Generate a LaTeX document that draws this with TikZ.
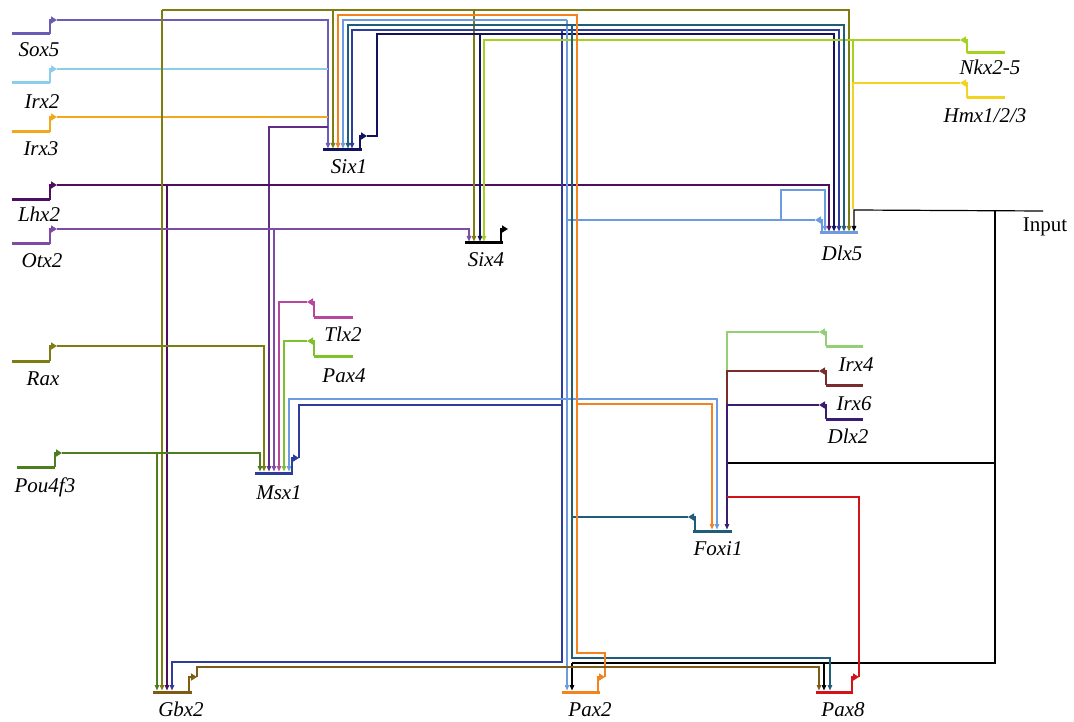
\documentclass[tikz,border=0pt]{standalone}
\usepackage{fontspec}
\setmainfont{Liberation Serif}
\usetikzlibrary{arrows.meta}
\definecolor{csox}{HTML}{6B5CB5}
\definecolor{csxm}{HTML}{5E2D85}
\definecolor{cirxtwo}{HTML}{8CCDEB}
\definecolor{cirxthree}{HTML}{F2A81D}
\definecolor{clhx}{HTML}{4E0F60}
\definecolor{cotx}{HTML}{7E4BA6}
\definecolor{crax}{HTML}{7D7D12}
\definecolor{cpou}{HTML}{4C7D1E}
\definecolor{ctlx}{HTML}{B8479E}
\definecolor{cpaxfour}{HTML}{7DC12B}
\definecolor{cmsx}{HTML}{2E3D9C}
\definecolor{csix}{HTML}{12125E}
\definecolor{cdlx}{HTML}{6C9BE2}
\definecolor{cnkx}{HTML}{A5D11F}
\definecolor{chmx}{HTML}{F2D322}
\definecolor{cirxfour}{HTML}{93CF74}
\definecolor{cirxsix}{HTML}{7A2C2C}
\definecolor{cdlxtwo}{HTML}{3B1C72}
\definecolor{cfoxi}{HTML}{1F5E7B}
\definecolor{cgbx}{HTML}{7E5C15}
\definecolor{cpaxtwo}{HTML}{F2831E}
\definecolor{cpaxeight}{HTML}{D2141A}
\tikzset{
  conn/.style={line width=1.2pt},
  tip/.style={-{Triangle[length=5.5pt,width=4.5pt]}},
  genebar/.style={line width=3pt},
  prom/.style={line width=2pt,-{Triangle[length=6pt,width=7pt]}},
  lbl/.style={font=\fontsize{21}{21}\selectfont\itshape, anchor=base, inner sep=0pt},
  lblup/.style={font=\fontsize{21}{21}\selectfont, anchor=base, inner sep=0pt},
}
\newcommand{\grn}[7]{\draw[genebar,#1] (#2,#4) -- (#3,#4); \draw[prom,#1] (#5,#4) -- (#5,#6) -- (#7,#6);}
\begin{document}
\begin{tikzpicture}[x=1pt,y=-1pt]
\useasboundingbox (0,0) rectangle (1074,722);
% ---------- named end points ----------
\coordinate (sox5o) at (57,20);
\coordinate (irx2o) at (57,69);
\coordinate (irx3o) at (57,117);
\coordinate (lhx2o) at (57,185);
\coordinate (otx2o) at (57,229);
\coordinate (raxo) at (57,346);
\coordinate (pou4f3o) at (62,453);
\coordinate (tlx2o) at (307,302);
\coordinate (pax4o) at (307,341);
\coordinate (msx1o) at (299,458);
\coordinate (six1o) at (367,136);
\coordinate (six4o) at (508,229);
\coordinate (dlx5o) at (815,220);
\coordinate (nkxo) at (960,40);
\coordinate (hmxo) at (960,83);
\coordinate (irx4o) at (819,332);
\coordinate (irx6o) at (819,371);
\coordinate (dlx2o) at (819,405);
\coordinate (foxi1o) at (688,517);
\coordinate (gbx2o) at (197,677);
\coordinate (pax2o) at (605,677);
\coordinate (pax8o) at (859,677);
\coordinate (inp) at (1043,211);
% inputs
\coordinate (six1a) at (328,148.5);
\coordinate (six1b) at (333,148.5);
\coordinate (six1c) at (338,148.5);
\coordinate (six1d) at (343,148.5);
\coordinate (six1e) at (348,148.5);
\coordinate (six1f) at (352,148.5);
\coordinate (six4a) at (469,241.5);
\coordinate (six4b) at (474,241.5);
\coordinate (six4c) at (480,241.5);
\coordinate (six4d) at (484,241.5);
\coordinate (msx1a) at (260,471.5);
\coordinate (msx1b) at (264,471.5);
\coordinate (msx1c) at (269,471.5);
\coordinate (msx1d) at (274,471.5);
\coordinate (msx1e) at (279,471.5);
\coordinate (msx1f) at (284,471.5);
\coordinate (msx1g) at (289,471.5);
\coordinate (dlx5a) at (825,231.5);
\coordinate (dlx5b) at (829,231.5);
\coordinate (dlx5c) at (834,231.5);
\coordinate (dlx5d) at (839,231.5);
\coordinate (dlx5e) at (844,231.5);
\coordinate (dlx5f) at (849,231.5);
\coordinate (dlx5g) at (854,231.5);
\coordinate (foxi1a) at (712,529.5);
\coordinate (foxi1b) at (717,529.5);
\coordinate (foxi1c) at (727,529.5);
\coordinate (gbx2a) at (157,690.5);
\coordinate (gbx2b) at (162,690.5);
\coordinate (gbx2c) at (167,690.5);
\coordinate (gbx2d) at (172,690.5);
\coordinate (pax2a) at (567,690.5);
\coordinate (pax2b) at (572,690.5);
\coordinate (pax8a) at (819,690.5);
\coordinate (pax8b) at (824,690.5);
\coordinate (pax8c) at (830,690.5);
% ---------- connectors ----------
% Sox5
\draw[conn,csox,tip] (sox5o) -| (six1a);
\draw[conn,csxm,tip] (328,127) -| (msx1c);
% Irx2, Irx3
\draw[conn,cirxtwo] (irx2o) -- (328,69);
\draw[conn,cirxthree] (irx3o) -- (328,117);
% Lhx2
\draw[conn,clhx,tip] (lhx2o) -| (dlx5b);
\draw[conn,clhx,tip] (167,185) -- (gbx2c);
% Otx2
\draw[conn,cotx,tip] (otx2o) -| (six4a);
\draw[conn,cotx,tip] (274,229) -- (msx1d);
% Rax
\draw[conn,crax,tip] (raxo) -| (msx1b);
\draw[conn,crax,tip] (162,10) -- (gbx2b);
\draw[conn,crax,tip] (162,10) -| (dlx5f);
\draw[conn,crax,tip] (333,10) -- (six1b);
\draw[conn,crax,tip] (474,10) -- (six4b);
% Pou4f3
\draw[conn,cpou,tip] (pou4f3o) -| (msx1a);
\draw[conn,cpou,tip] (157,453) -- (gbx2a);
% Tlx2, Pax4
\draw[conn,ctlx,tip] (tlx2o) -| (msx1e);
\draw[conn,cpaxfour,tip] (pax4o) -| (msx1f);
% Msx1
\draw[conn,cmsx] (msx1o) |- (562,405);
\draw[conn,cmsx,tip] (562,30) -- (562,662) -| (gbx2d);
\draw[conn,cmsx,tip] (562,30) -| (six1f);
\draw[conn,cmsx,tip] (562,30) -| (dlx5d);
% Six1
\draw[conn,csix,tip] (six1o) -| (377,34) -| (dlx5c);
\draw[conn,csix,tip] (480,34) -- (six4c);
% Dlx5
\draw[conn,cdlx] (dlx5o) -- (567,220);
\draw[conn,cdlx,tip] (781,220) |- (825,190) -- (dlx5a);
\draw[conn,cdlx,tip] (567,20) -- (pax2a);
\draw[conn,cdlx,tip] (567,20) -| (six1d);
\draw[conn,cdlx,tip] (567,399) -| (msx1g);
\draw[conn,cdlx,tip] (567,399) -| (foxi1b);
% Nkx2-5, Hmx
\draw[conn,cnkx,tip] (nkxo) -| (six4d);
\draw[conn,cnkx] (853,40) -- (853,83);
\draw[conn,chmx] (hmxo) -| (853,209);
% Input
\draw[conn,black,tip] (inp) -- (854,210) -- (dlx5g);
\draw[conn,black] (995,210) -- (995,663) -- (572,663);
\draw[conn,black,tip] (572,663) -- (pax2b);
\draw[conn,black,tip] (824,663) -- (pax8b);
\draw[conn,black] (995,463) -- (727,463);
% Irx4, Irx6, Dlx2
\draw[conn,cirxfour] (irx4o) -| (727,371);
\draw[conn,cirxsix] (irx6o) -| (727,405);
\draw[conn,cdlxtwo,tip] (dlx2o) -| (foxi1c);
% Foxi1
\draw[conn,cfoxi] (foxi1o) -- (572,517);
\draw[conn,cfoxi,tip] (572,25) -- (572,658) -| (pax8c);
\draw[conn,cfoxi,tip] (572,25) -| (six1e);
\draw[conn,cfoxi,tip] (572,25) -| (dlx5e);
% Pax2
\draw[conn,cpaxtwo,tip] (pax2o) |- (577,653) -- (577,15) -| (six1c);
\draw[conn,cpaxtwo,tip] (577,404) -| (foxi1a);
% Gbx2
\draw[conn,cgbx,tip] (gbx2o) |- (819,667) -- (pax8a);
% Pax8
\draw[conn,cpaxeight] (pax8o) |- (727,497);
% ---------- genes ----------
\grn{csox}{12}{50}{34}{50}{20}{57}
\grn{cirxtwo}{12}{50}{83}{50}{69}{57}
\grn{cirxthree}{12}{50}{132}{50}{117}{57}
\grn{clhx}{12}{50}{200}{50}{185}{57}
\grn{cotx}{12}{50}{244}{50}{229}{57}
\grn{crax}{12}{50}{361}{50}{346}{57}
\grn{cpou}{17}{55}{467}{55}{453}{62}
\grn{ctlx}{314}{353}{317}{314}{302}{307}
\grn{cpaxfour}{314}{353}{356}{314}{341}{307}
\grn{cmsx}{255}{293}{473}{292}{458}{299}
\grn{csix}{323}{362}{150}{360}{136}{367}
\grn{black}{465}{503}{243}{501}{229}{508}
\grn{cdlx}{820}{858}{233}{822}{220}{815}
\grn{cnkx}{967}{1005}{53}{967}{40}{960}
\grn{chmx}{967}{1005}{98}{967}{83}{960}
\grn{cirxfour}{826}{863}{346}{826}{332}{819}
\grn{cirxsix}{826}{863}{385}{826}{371}{819}
\grn{cdlxtwo}{826}{863}{419}{826}{405}{819}
\grn{cfoxi}{693}{732}{531}{695}{517}{688}
\grn{cgbx}{153}{192}{692}{189}{677}{197}
\grn{cpaxtwo}{562}{600}{692}{598}{677}{605}
\grn{cpaxeight}{816}{853}{692}{852}{677}{859}
% ---------- labels ----------
\node[lbl] (lsox5) at (39,57) {Sox5};
\node[lbl] (lirx2) at (42,109) {Irx2};
\node[lbl] (lirx3) at (41,156) {Irx3};
\node[lbl] (llhx2) at (39,222) {Lhx2};
\node[lbl] (lotx2) at (42,268) {Otx2};
\node[lbl] (lrax) at (43,385) {Rax};
\node[lbl] (lpou) at (45,492) {Pou4f3};
\node[lbl] (ltlx2) at (343,341) {Tlx2};
\node[lbl] (lpax4) at (344,382) {Pax4};
\node[lbl] (lmsx1) at (279,499) {Msx1};
\node[lbl] (lsix1) at (349,174) {Six1};
\node[lbl] (lsix4) at (486,267) {Six4};
\node[lbl] (ldlx5) at (842,261) {Dlx5};
\node[lbl] (lnkx) at (990,75) {Nkx2-5};
\node[lbl] (lhmx) at (985,123) {Hmx1/2/3};
\node[lblup] (linput) at (1045,232) {Input};
\node[lbl] (lirx4) at (856,371) {Irx4};
\node[lbl] (lirx6) at (854,410) {Irx6};
\node[lbl] (ldlx2) at (848,443) {Dlx2};
\node[lbl] (lfoxi1) at (718,555) {Foxi1};
\node[lbl] (lgbx2) at (181,716) {Gbx2};
\node[lbl] (lpax2) at (590,716) {Pax2};
\node[lbl] (lpax8) at (843,716) {Pax8};
\end{tikzpicture}
\end{document}
